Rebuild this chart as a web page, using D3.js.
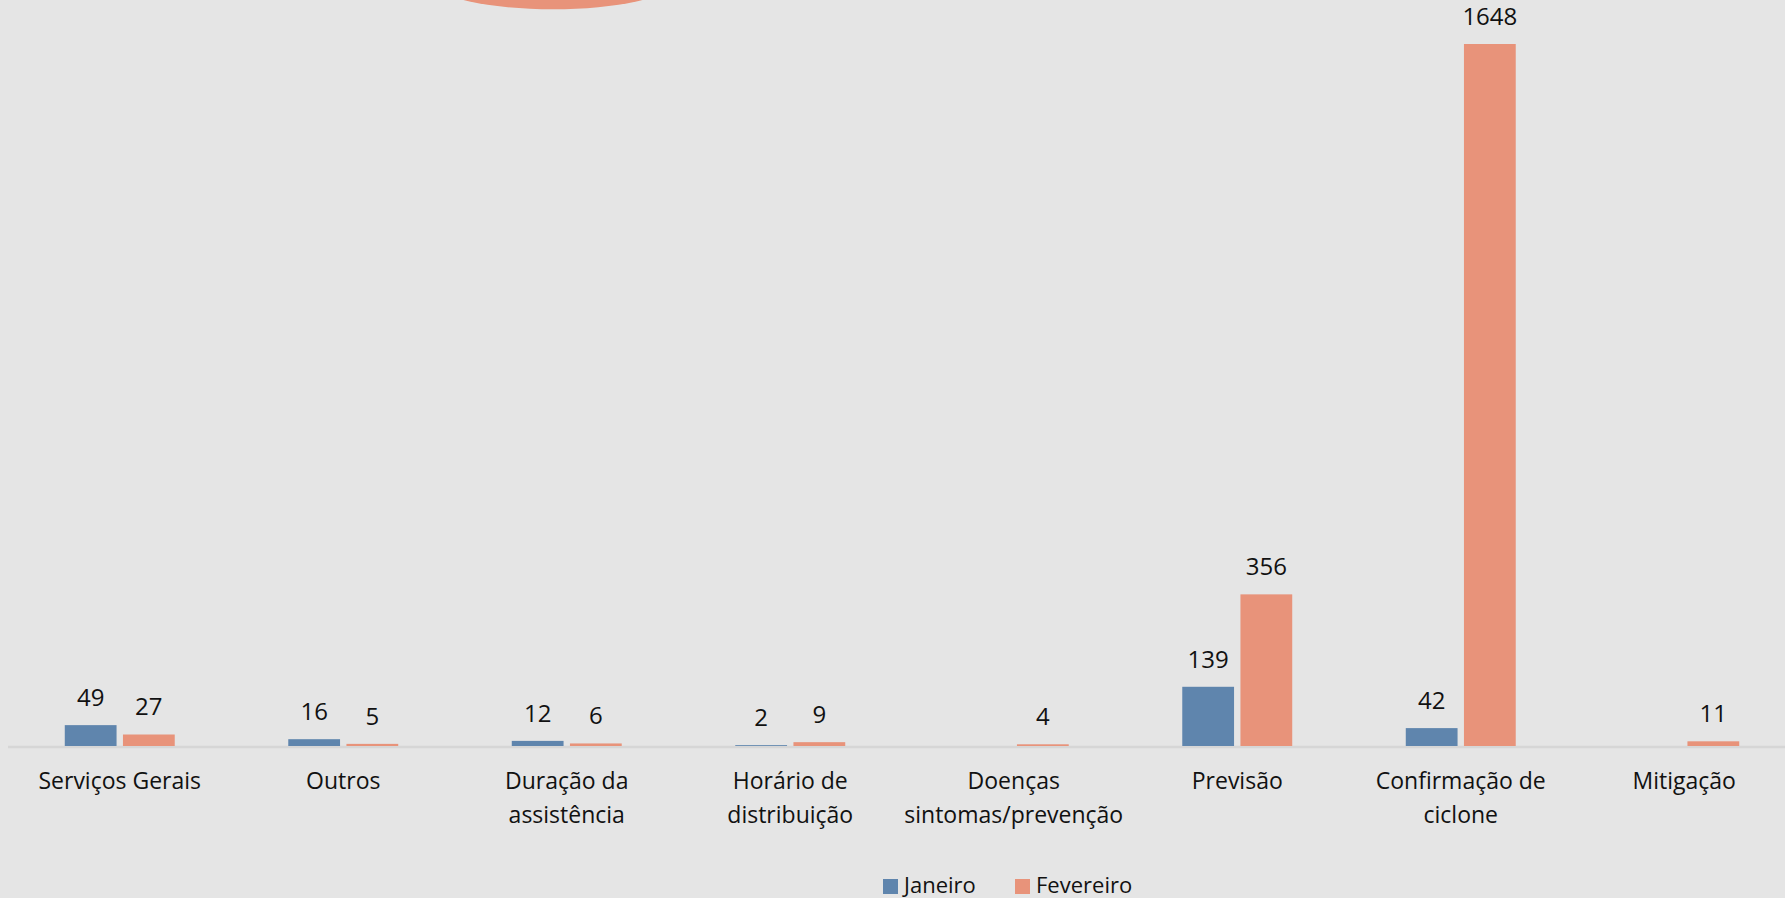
<!DOCTYPE html>
<html lang="pt">
<head>
  <meta charset="UTF-8">
  <title>Janeiro vs Fevereiro</title>
  <script src="https://d3js.org/d3.v7.min.js"></script>
  <style>
    html, body {
      margin: 0;
      padding: 0;
      background: #e5e5e5;
      overflow: hidden;
    }
    svg text {
      font-family: 'Open Sans', 'Noto Sans', sans-serif;
      fill: #111;
    }
  </style>
</head>
<body>
  <div id="chart"></div>
  <script>
    // dados
    const categories = [
      "Serviços Gerais", "Outros", "Duração da assistência", "Horário de distribuição",
      "Doenças sintomas/prevenção", "Previsão", "Confirmação de ciclone", "Mitigação"
    ];
    const tickLabels = [
      ["Serviços Gerais"], ["Outros"], ["Duração da", "assistência"], ["Horário de", "distribuição"],
      ["Doenças", "sintomas/prevenção"], ["Previsão"], ["Confirmação de", "ciclone"], ["Mitigação"]
    ];
    const seriesNames = ["Janeiro", "Fevereiro"];
    const janeiro = [49, 16, 12, 2, null, 139, 42, null];
    const fevereiro = [27, 5, 6, 9, 4, 356, 1648, 11];
    const colors = ["#5f85ad", "#e8937a"];

    const width = 1785, height = 898;
    const baseY = 746, topY = 44;

    const svg = d3.select('#chart')
      .append('svg')
      .attr('width', width)
      .attr('height', height);

    svg.append('rect')
      .attr('width', width)
      .attr('height', height)
      .attr('fill', '#e5e5e5');

    // ellipse coupée en haut (forme du titre)
    svg.append('ellipse')
      .attr('cx', 553)
      .attr('cy', -17.4)
      .attr('rx', 118)
      .attr('ry', 26.7)
      .attr('fill', colors[1]);

    const x0 = d3.scaleBand()
      .domain(categories)
      .range([8, 1796])
      .paddingInner(0.508)
      .paddingOuter(0.254);

    const x1 = d3.scaleBand()
      .domain(seriesNames)
      .range([0, x0.bandwidth()])
      .paddingInner(0.11);

    const y = d3.scaleLinear()
      .domain([0, 1648])
      .range([baseY, topY]);

    const rows = categories.map((c, i) => ({
      cat: c,
      values: [janeiro[i], fevereiro[i]]
    }));

    // eixo
    const axis = svg.append('g')
      .attr('transform', `translate(0,${baseY + 1})`)
      .call(d3.axisBottom(x0).tickSize(0).tickFormat(''));
    axis.select('.domain')
      .attr('stroke', '#d6d6d6')
      .attr('stroke-width', 2.5)
      .attr('d', `M8,0H${width}`);

    axis.selectAll('.tick text').remove();
    axis.selectAll('.tick').each(function (d, i) {
      const t = d3.select(this).append('text')
        .attr('text-anchor', 'middle')
        .attr('y', 42)
        .style('font-size', '23px');
      tickLabels[i].forEach((line, j) => {
        t.append('tspan')
          .attr('x', 0)
          .attr('dy', j === 0 ? 0 : 34)
          .text(line);
      });
    });

    const groups = svg.selectAll('g.cat')
      .data(rows)
      .enter()
      .append('g')
      .attr('class', 'cat')
      .attr('transform', d => `translate(${x0(d.cat)},0)`);

    const bars = groups.selectAll('g.bar')
      .data(d => d.values.map((v, k) => ({ key: seriesNames[k], value: v, k: k })).filter(e => e.value !== null))
      .enter()
      .append('g')
      .attr('class', 'bar');

    bars.append('rect')
      .attr('x', d => x1(d.key))
      .attr('y', d => y(d.value))
      .attr('width', x1.bandwidth())
      .attr('height', d => baseY - y(d.value))
      .attr('fill', d => colors[d.k]);

    bars.append('text')
      .attr('x', d => x1(d.key) + x1.bandwidth() / 2)
      .attr('y', d => y(d.value) - 19)
      .attr('text-anchor', 'middle')
      .style('font-size', '24px')
      .text(d => d.value);

    // legenda
    const legend = svg.append('g').attr('transform', 'translate(883,879)');
    const legendX = [0, 132];
    seriesNames.forEach((s, k) => {
      const g = legend.append('g').attr('transform', `translate(${legendX[k]},0)`);
      g.append('rect')
        .attr('width', 15)
        .attr('height', 15)
        .attr('fill', colors[k]);
      g.append('text')
        .attr('x', 21)
        .attr('y', 14)
        .style('font-size', '22px')
        .text(s);
    });
  </script>
</body>
</html>
